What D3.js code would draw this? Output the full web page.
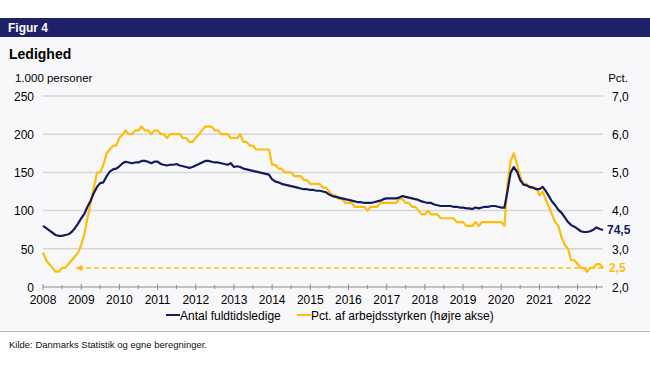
<!DOCTYPE html>
<html><head><meta charset="utf-8">
<script src="https://cdn.jsdelivr.net/npm/d3@7"></script>
<style>
body{margin:0;background:#fff;}
svg text{font-family:"Liberation Sans",Arial,sans-serif;}
</style></head>
<body><svg id="c" width="650" height="391"></svg>
<script>
// Monthly data, Jan 2008 - Sep 2022
const startYear = 2008;
const persons = [
 80,77,74,71,68,67,67,68,69,72,77,83,            // 2008
 90,96,105,113,123,131,136,137,145,151,154,155, // 2009
 158,162,164,163,162,163,163,165,165,164,162,164, // 2010
 164,161,160,159,160,160,161,159,158,157,156,157, // 2011
 159,161,163,165,165,164,163,163,162,161,160,162, // 2012
 157,158,157,155,154,153,152,151,150,149,148,147, // 2013
 141,138,137,135,134,133,132,131,130,129,128,128, // 2014
 127,127,126,126,125,124,121,119,118,117,116,115, // 2015
 114,113,112,111,111,110,110,110,111,112,113,115, // 2016
 116,116,116,116,117,119,118,117,116,115,114,112, // 2017
 111,110,110,108,107,106,106,106,106,105,105,104, // 2018
 104,103,103,102,104,103,104,105,105,106,106,105, // 2019
 104,104,125,150,157,151,140,134,133,131,130,128, // 2020
 128,131,126,119,112,107,101,97,91,85,81,79,      // 2021
 76,73,72,72,73,75,78,76,74.5                     // 2022
];
const pct = [
 2.9,2.7,2.6,2.5,2.4,2.4,2.5,2.5,2.6,2.7,2.8,2.9, // 2008
 3.1,3.4,3.8,4.2,4.6,5.0,5.0,5.2,5.5,5.6,5.7,5.7, // 2009
 5.9,6.0,6.1,6.0,6.0,6.1,6.1,6.2,6.1,6.1,6.0,6.1, // 2010
 6.1,6.0,6.0,5.9,6.0,6.0,6.0,6.0,5.9,5.9,5.8,5.8, // 2011
 5.9,6.0,6.1,6.2,6.2,6.2,6.1,6.1,6.0,6.0,6.0,5.9, // 2012
 5.9,5.9,6.0,5.8,5.8,5.7,5.7,5.6,5.6,5.6,5.6,5.6, // 2013
 5.2,5.2,5.1,5.1,5.0,5.0,5.0,4.9,4.9,4.9,4.8,4.8, // 2014
 4.7,4.7,4.7,4.7,4.6,4.6,4.5,4.4,4.4,4.3,4.3,4.2, // 2015
 4.2,4.2,4.1,4.1,4.1,4.1,4.0,4.1,4.1,4.1,4.2,4.2, // 2016
 4.2,4.2,4.2,4.2,4.3,4.3,4.2,4.2,4.1,4.1,4.0,3.9, // 2017
 3.9,4.0,3.9,3.9,3.9,3.8,3.8,3.8,3.8,3.8,3.7,3.7, // 2018
 3.7,3.6,3.6,3.6,3.7,3.6,3.7,3.7,3.7,3.7,3.7,3.7, // 2019
 3.7,3.6,4.7,5.3,5.5,5.2,4.9,4.7,4.7,4.6,4.6,4.6, // 2020
 4.4,4.5,4.3,4.1,3.9,3.7,3.6,3.3,3.1,3.0,2.7,2.7, // 2021
 2.6,2.5,2.5,2.4,2.5,2.5,2.6,2.6,2.5              // 2022
];
const leftTicks = [0,50,100,150,200,250];
const rightTicks = [2,3,4,5,6,7];
const yearLabels = d3.range(2008, 2023);
const refLevel = 2.5;   // pre-crisis level (dashed line)
const seriesNames = ["Antal fuldtidsledige", "Pct. af arbejdsstyrken (højre akse)"];
const endLabels = ["74,5", "2,5"];

const NAVY = "#141b5e", YELLOW = "#ffbd0a";
const fmt = v => d3.format(".1f")(v).replace(".", ",");

const svg = d3.select("#c");
// panel background
svg.append("rect").attr("x",0).attr("y",37).attr("width",650).attr("height",294).attr("fill","#f8f8fb");
svg.append("rect").attr("x",0).attr("y",18).attr("width",650).attr("height",19).attr("fill","#1e2068");
svg.append("text").attr("x",8).attr("y",32).attr("fill","#fff").attr("font-size",12).attr("font-weight","bold").text("Figur 4");
svg.append("text").attr("x",9).attr("y",59).attr("fill","#000").attr("font-size",14).attr("font-weight","bold").text("Ledighed");
svg.append("line").attr("x1",0).attr("x2",650).attr("y1",331.5).attr("y2",331.5).attr("stroke","#b4b4b4").attr("stroke-width",1);
svg.append("text").attr("x",9).attr("y",348).attr("font-size",9.5).attr("fill","#111").text("Kilde:  Danmarks Statistik og egne beregninger.");

const dates = persons.map((_, i) => new Date(startYear, i, 1));
const x = d3.scaleTime().domain([new Date(2008,0,1), new Date(2022,8,1)]).range([43, 603]);
const yL = d3.scaleLinear().domain([0,250]).range([287, 96]);
const yR = d3.scaleLinear().domain([2,7]).range([287, 96]);

// gridlines
svg.append("g").selectAll("line").data(leftTicks.slice(1)).join("line")
  .attr("x1",43).attr("x2",603).attr("y1",d=>yL(d)).attr("y2",d=>yL(d))
  .attr("stroke","#d6d6d6").attr("stroke-width",1.5);

// left axis
const gl = svg.append("g").attr("transform","translate(34,0)")
  .call(d3.axisLeft(yL).tickValues(leftTicks).tickSize(0).tickPadding(0));
gl.select(".domain").remove();
gl.selectAll("text").attr("font-size",12).attr("fill","#000").attr("font-family","Liberation Sans, Arial, sans-serif").attr("dy","0.35em");
// right axis
const gr = svg.append("g").attr("transform","translate(612,0)")
  .call(d3.axisRight(yR).tickValues(rightTicks).tickSize(0).tickPadding(0).tickFormat(fmt));
gr.select(".domain").remove();
gr.selectAll("text").attr("font-size",12).attr("fill","#000").attr("font-family","Liberation Sans, Arial, sans-serif").attr("dy","0.35em");

svg.append("text").attr("x",15).attr("y",82).attr("font-size",11.5).text("1.000 personer");
svg.append("text").attr("x",628).attr("y",82).attr("font-size",11.5).attr("text-anchor","end").text("Pct.");

// bottom axis
svg.append("line").attr("x1",43).attr("x2",603).attr("y1",287).attr("y2",287).attr("stroke","#8c8c8c").attr("stroke-width",1);
const yearDates = yearLabels.map(y => new Date(y,0,1));
const halfDates = yearLabels.map(y => new Date(y,6,1)).filter(d => x(d) <= 603);
svg.append("g").selectAll("line").data(yearDates).join("line")
  .attr("x1",d=>x(d)).attr("x2",d=>x(d)).attr("y1",284).attr("y2",290).attr("stroke","#8c8c8c");
svg.append("g").selectAll("line").data(halfDates).join("line")
  .attr("x1",d=>x(d)).attr("x2",d=>x(d)).attr("y1",285).attr("y2",289).attr("stroke","#8c8c8c");
svg.append("g").selectAll("text").data(yearDates).join("text")
  .attr("x",d=>x(d)).attr("y",304).attr("text-anchor","middle").attr("font-size",12).text(d=>d.getFullYear());

// dashed reference line with arrow (pointing left)
svg.append("defs").append("marker").attr("id","arr").attr("viewBox","0 0 10 10")
  .attr("refX",6).attr("refY",5).attr("markerWidth",5).attr("markerHeight",5).attr("orient","auto")
  .append("path").attr("d","M0,1 L10,5 L0,9 Z").attr("fill",YELLOW);
svg.append("line").attr("x1",x(new Date(2022,8,1))).attr("x2",x(new Date(2008,11,1)))
  .attr("y1",yR(refLevel)).attr("y2",yR(refLevel))
  .attr("stroke",YELLOW).attr("stroke-width",1.5).attr("stroke-dasharray","5,3")
  .attr("marker-end","url(#arr)");

// lines
const lineL = d3.line().x((d,i)=>x(dates[i])).y(d=>yL(d));
const lineR = d3.line().x((d,i)=>x(dates[i])).y(d=>yR(d));
svg.append("path").datum(pct).attr("d",lineR).attr("fill","none").attr("stroke",YELLOW).attr("stroke-width",2.2).attr("stroke-linejoin","round");
svg.append("path").datum(persons).attr("d",lineL).attr("fill","none").attr("stroke",NAVY).attr("stroke-width",2.2).attr("stroke-linejoin","round");

// end labels
svg.append("text").attr("x",607).attr("y",yL(persons[persons.length-1])).attr("dy","0.35em")
  .attr("font-size",12).attr("font-weight","bold").attr("fill",NAVY).text(endLabels[0]);
svg.append("text").attr("x",609).attr("y",yR(refLevel)).attr("dy","0.35em")
  .attr("font-size",12).attr("font-weight","bold").attr("fill",YELLOW).text(endLabels[1]);

// legend
const lg = svg.append("g");
lg.append("line").attr("x1",166).attr("x2",180).attr("y1",315).attr("y2",315).attr("stroke",NAVY).attr("stroke-width",2);
lg.append("text").attr("x",180).attr("y",319.5).attr("font-size",12).text(seriesNames[0]);
lg.append("line").attr("x1",297).attr("x2",311).attr("y1",315).attr("y2",315).attr("stroke",YELLOW).attr("stroke-width",2);
lg.append("text").attr("x",311).attr("y",319.5).attr("font-size",12).text(seriesNames[1]);
</script></body></html>
